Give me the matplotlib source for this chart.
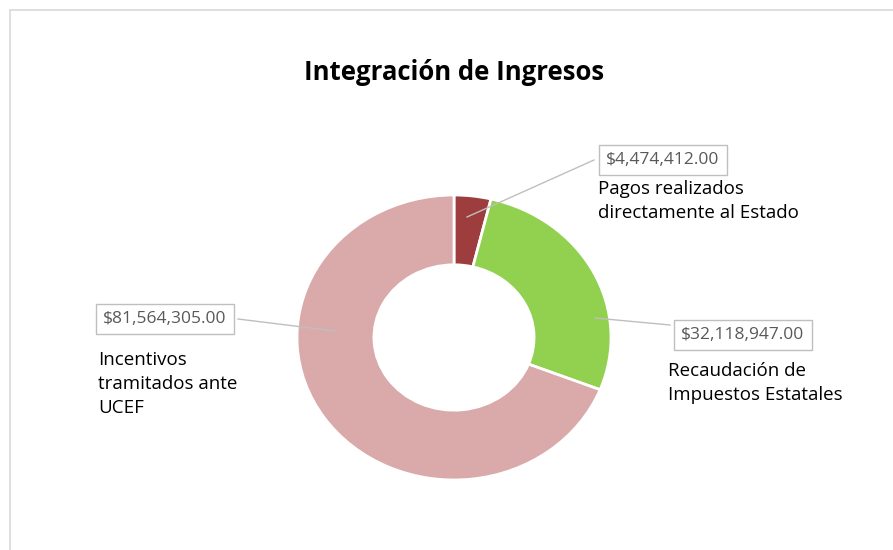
import matplotlib.pyplot as plt
from matplotlib.patches import Rectangle

# datos
categorias = ['Pagos realizados\ndirectamente al Estado',
              'Recaudación de\nImpuestos Estatales',
              'Incentivos\ntramitados ante\nUCEF']
valores = [4474412.00, 32118947.00, 81564305.00]
colores = ['#9E3D3D', '#92D050', '#DAA9A9']
titulo = 'Integración de Ingresos'

plt.rcParams['font.family'] = ['Open Sans', 'DejaVu Sans']

W, H = 893, 550
cx, cy, rx, ry = 454, 337.5, 157, 142.5

def px(x, y):
    # pixel de la imagen -> coordenadas de datos
    return (x - cx) / rx, (cy - y) / ry

fig = plt.figure(figsize=(W / 100, H / 100), dpi=100)
ax = fig.add_axes([0, 0, 1, 1])
wedges, _ = ax.pie(valores, colors=colores, startangle=90, counterclock=False,
                   radius=1, wedgeprops=dict(width=0.49, edgecolor='white', linewidth=2))
ax.set_aspect('auto')
x0, y1 = px(0, 0)
x1, y0 = px(W, H)
ax.set_xlim(x0, x1)
ax.set_ylim(y0, y1)
ax.axis('off')

# borde del area del grafico
fig.patches.append(Rectangle((10 / W, -0.01), 1.0, 1 - 9.5 / H + 0.01, transform=fig.transFigure,
                             fill=False, edgecolor='#D9D9D9', linewidth=1.2))

fig.text(454 / W, 1 - 72 / H, titulo, ha='center', va='center',
         fontsize=18.5, fontweight='bold', color='black')

# etiquetas: (punto en cuña, extremo de la linea, centro de caja, texto de categoria)
etiquetas = [
    ((467, 217), (594, 160), (663, 160), (598, 201)),
    ((595, 318), (670, 325), (743, 335), (668, 383)),
    ((335, 331), (238, 319), (165, 319), (98, 384)),
]
for v, cat, (p0, p1, pb, pt) in zip(valores, categorias, etiquetas):
    ax.plot(*zip(px(*p0), px(*p1)), color='#BFBFBF', linewidth=1, clip_on=False)
    ax.text(*px(*pb), '${:,.2f}'.format(v), ha='center', va='center', fontsize=12.5,
            color='#595959',
            bbox=dict(boxstyle='square,pad=0.42', facecolor='white', edgecolor='#BFBFBF', linewidth=1))
    ax.text(*px(*pt), cat, ha='left', va='center', fontsize=13.5, color='black', linespacing=1.43)

fig.savefig('out.png', dpi=100)
